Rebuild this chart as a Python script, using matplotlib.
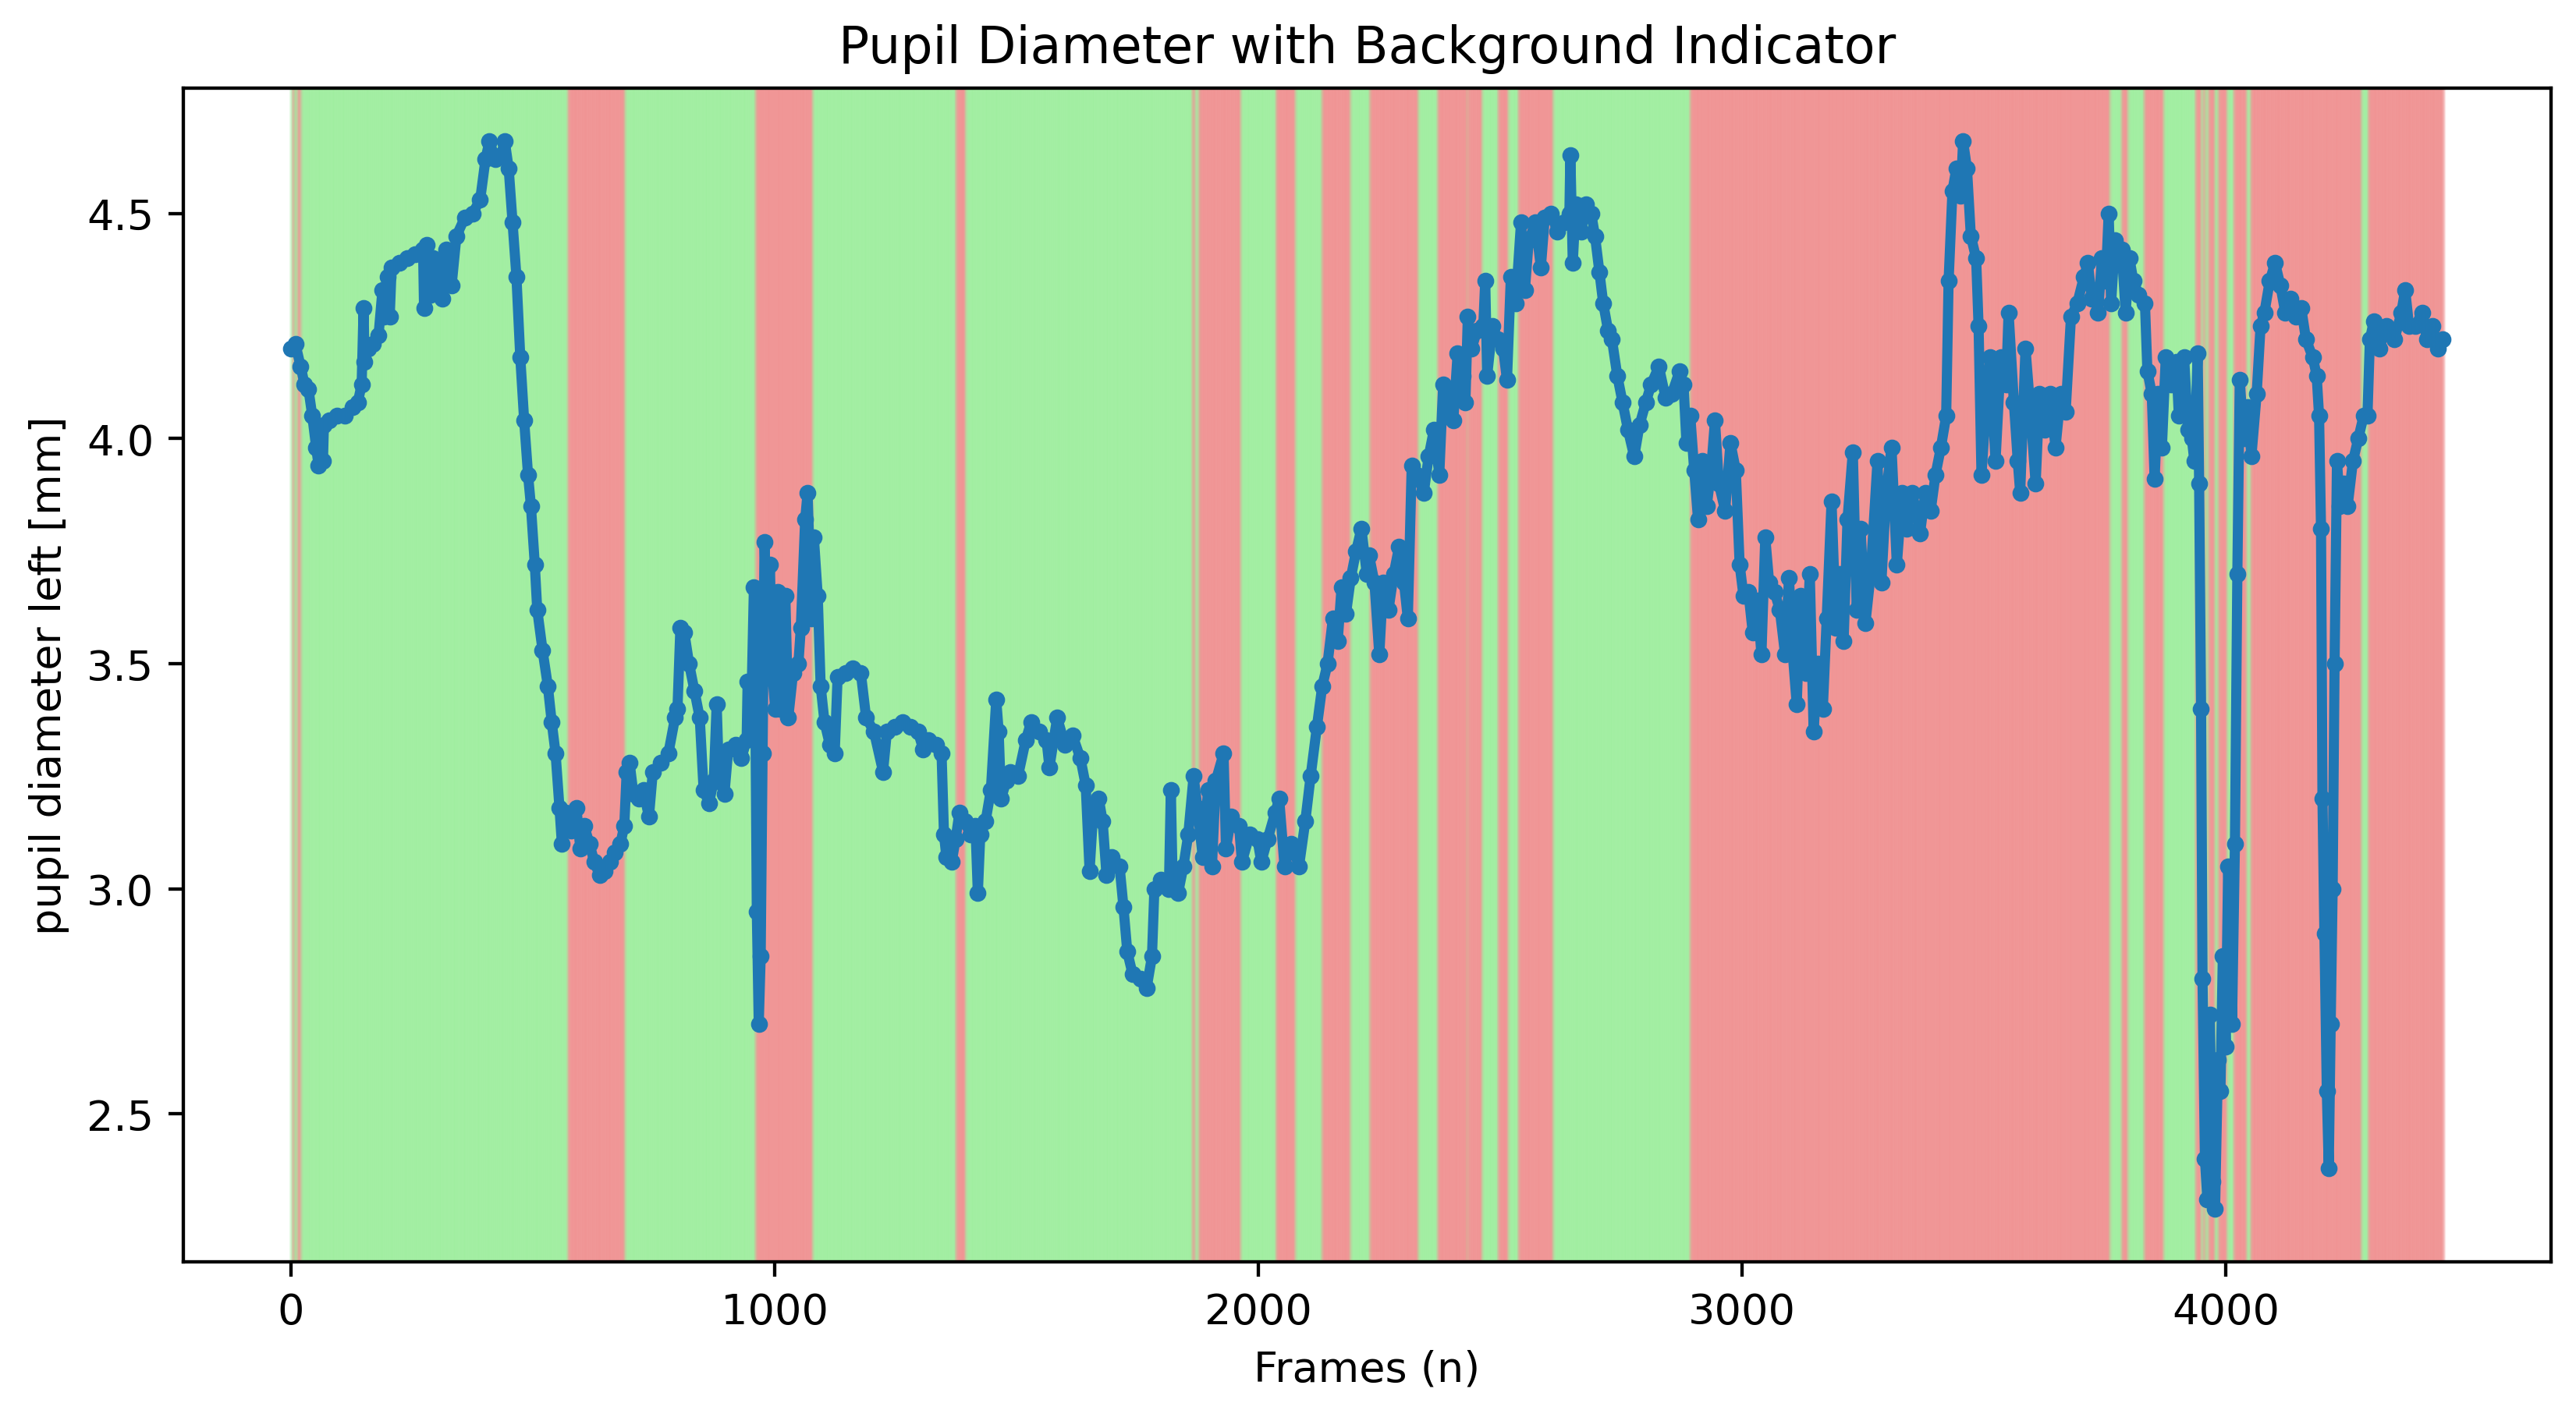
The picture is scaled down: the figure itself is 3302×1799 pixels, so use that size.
import numpy as np
import matplotlib.pyplot as plt


# Data: frames and left pupil diameter
frames = [
    0, 9, 20, 28, 36, 44, 52, 57, 66, 68, 79, 95, 111, 127, 138, 146, 150, 152, 160, 170,
    181, 189, 192, 200, 204, 208, 224, 240, 256, 273, 275, 281, 289, 294, 305, 313, 321, 332, 342, 359,
    375, 391, 402, 410, 423, 434, 442, 450, 458, 466, 474, 482, 490, 496, 504, 509, 520, 531, 539, 547,
    555, 560, 568, 579, 590, 598, 606, 617, 627, 638, 649, 660, 670, 681, 689, 694, 700, 708, 719, 729,
    732, 740, 748, 764, 780, 794, 799, 805, 813, 823, 834, 845, 853, 864, 874, 880, 885, 896, 904, 920,
    931, 942, 944, 952, 957, 960, 963, 967, 971, 975, 979, 985, 990, 995, 1001, 1006, 1011, 1017, 1022, 1028,
    1038, 1049, 1054, 1063, 1068, 1076, 1081, 1089, 1095, 1103, 1114, 1124, 1130, 1146, 1162, 1178, 1189, 1205, 1224, 1232,
    1248, 1264, 1280, 1296, 1307, 1318, 1334, 1345, 1350, 1355, 1366, 1374, 1382, 1393, 1404, 1415, 1420, 1425, 1436, 1447,
    1458, 1463, 1468, 1479, 1487, 1503, 1519, 1530, 1546, 1562, 1568, 1584, 1600, 1616, 1632, 1643, 1651, 1659, 1670, 1678,
    1686, 1697, 1713, 1721, 1729, 1740, 1756, 1769, 1780, 1785, 1799, 1815, 1819, 1823, 1834, 1845, 1855, 1866, 1874, 1885,
    1896, 1904, 1912, 1928, 1933, 1944, 1960, 1966, 1982, 1998, 2006, 2019, 2035, 2043, 2054, 2068, 2084, 2097, 2108, 2121,
    2132, 2143, 2154, 2164, 2172, 2181, 2191, 2202, 2213, 2224, 2229, 2240, 2250, 2258, 2269, 2280, 2291, 2301, 2309, 2317,
    2328, 2342, 2352, 2363, 2374, 2382, 2393, 2403, 2412, 2422, 2428, 2433, 2441, 2452, 2465, 2469, 2473, 2484, 2495, 2506,
    2514, 2522, 2532, 2543, 2551, 2559, 2573, 2584, 2592, 2605, 2618, 2632, 2643, 2645, 2650, 2656, 2667, 2678, 2688, 2696,
    2705, 2713, 2723, 2731, 2742, 2753, 2764, 2777, 2788, 2801, 2812, 2828, 2842, 2855, 2871, 2879, 2885, 2893, 2901, 2909,
    2917, 2927, 2936, 2944, 2952, 2965, 2976, 2987, 2995, 3003, 3013, 3022, 3032, 3040, 3048, 3056, 3067, 3078, 3089, 3097,
    3105, 3113, 3121, 3132, 3140, 3148, 3156, 3167, 3175, 3185, 3194, 3202, 3210, 3218, 3229, 3237, 3245, 3255, 3266, 3280,
    3288, 3298, 3309, 3320, 3331, 3341, 3352, 3368, 3379, 3390, 3400, 3411, 3422, 3427, 3435, 3443, 3452, 3457, 3465, 3473,
    3484, 3489, 3495, 3503, 3513, 3524, 3535, 3546, 3551, 3562, 3570, 3575, 3586, 3597, 3607, 3615, 3626, 3637, 3648, 3659,
    3669, 3680, 3693, 3707, 3715, 3723, 3728, 3736, 3744, 3752, 3758, 3763, 3771, 3785, 3793, 3801, 3809, 3820, 3833, 3838,
    3847, 3853, 3860, 3868, 3876, 3887, 3898, 3903, 3914, 3922, 3930, 3935, 3942, 3945, 3949, 3952, 3957, 3962, 3967, 3973,
    3978, 3984, 3989, 3994, 4000, 4005, 4013, 4019, 4024, 4029, 4037, 4045, 4053, 4064, 4072, 4080, 4091, 4102, 4113, 4123,
    4134, 4145, 4156, 4166, 4180, 4188, 4193, 4197, 4200, 4204, 4209, 4213, 4217, 4221, 4225, 4230, 4236, 4244, 4252, 4263,
    4274, 4285, 4293, 4298, 4306, 4317, 4333, 4349, 4363, 4371, 4379, 4392, 4406, 4416, 4427, 4438, 4449,
]
pupil_left = [
    4.20, 4.21, 4.16, 4.12, 4.11, 4.05, 3.98, 3.94, 3.95, 4.03, 4.04, 4.05, 4.05, 4.07, 4.08, 4.12, 4.29, 4.17, 4.20, 4.21,
    4.23, 4.33, 4.27, 4.36, 4.27, 4.38, 4.39, 4.40, 4.41, 4.42, 4.29, 4.43, 4.32, 4.40, 4.38, 4.31, 4.42, 4.34, 4.45, 4.49,
    4.50, 4.53, 4.62, 4.66, 4.62, 4.63, 4.66, 4.60, 4.48, 4.36, 4.18, 4.04, 3.92, 3.85, 3.72, 3.62, 3.53, 3.45, 3.37, 3.30,
    3.18, 3.10, 3.17, 3.13, 3.18, 3.09, 3.14, 3.10, 3.06, 3.03, 3.04, 3.06, 3.08, 3.10, 3.14, 3.26, 3.28, 3.21, 3.20, 3.22,
    3.20, 3.16, 3.26, 3.28, 3.30, 3.38, 3.40, 3.58, 3.57, 3.50, 3.44, 3.38, 3.22, 3.19, 3.24, 3.41, 3.24, 3.21, 3.31, 3.32,
    3.29, 3.33, 3.46, 3.42, 3.67, 3.40, 2.95, 2.70, 2.85, 3.30, 3.77, 3.50, 3.72, 3.48, 3.40, 3.66, 3.40, 3.50, 3.65, 3.38,
    3.48, 3.50, 3.58, 3.82, 3.88, 3.60, 3.78, 3.65, 3.45, 3.37, 3.32, 3.30, 3.47, 3.48, 3.49, 3.48, 3.38, 3.35, 3.26, 3.35,
    3.36, 3.37, 3.36, 3.35, 3.31, 3.33, 3.32, 3.30, 3.12, 3.07, 3.06, 3.11, 3.17, 3.15, 3.12, 3.14, 2.99, 3.12, 3.15, 3.22,
    3.42, 3.35, 3.20, 3.24, 3.26, 3.25, 3.33, 3.37, 3.35, 3.33, 3.27, 3.38, 3.32, 3.34, 3.29, 3.23, 3.04, 3.18, 3.20, 3.15,
    3.03, 3.07, 3.05, 2.96, 2.86, 2.81, 2.80, 2.78, 2.85, 3.00, 3.02, 3.00, 3.22, 3.00, 2.99, 3.05, 3.12, 3.25, 3.18, 3.07,
    3.22, 3.05, 3.24, 3.30, 3.09, 3.16, 3.14, 3.06, 3.12, 3.11, 3.06, 3.11, 3.17, 3.20, 3.05, 3.10, 3.05, 3.15, 3.25, 3.36,
    3.45, 3.50, 3.60, 3.55, 3.67, 3.61, 3.69, 3.75, 3.80, 3.70, 3.74, 3.68, 3.52, 3.68, 3.62, 3.70, 3.76, 3.68, 3.60, 3.94,
    3.92, 3.88, 3.96, 4.02, 3.92, 4.12, 4.08, 4.04, 4.19, 4.14, 4.08, 4.27, 4.20, 4.24, 4.25, 4.35, 4.14, 4.25, 4.22, 4.20,
    4.13, 4.36, 4.30, 4.48, 4.33, 4.44, 4.48, 4.38, 4.49, 4.50, 4.46, 4.48, 4.50, 4.63, 4.39, 4.52, 4.46, 4.52, 4.50, 4.45,
    4.37, 4.30, 4.24, 4.22, 4.14, 4.08, 4.02, 3.96, 4.03, 4.08, 4.12, 4.16, 4.09, 4.10, 4.15, 4.12, 3.99, 4.05, 3.93, 3.82,
    3.95, 3.85, 3.93, 4.04, 3.90, 3.84, 3.99, 3.93, 3.72, 3.65, 3.66, 3.57, 3.64, 3.52, 3.78, 3.68, 3.66, 3.62, 3.52, 3.69,
    3.52, 3.41, 3.65, 3.48, 3.70, 3.35, 3.50, 3.40, 3.60, 3.86, 3.58, 3.70, 3.55, 3.82, 3.97, 3.62, 3.80, 3.59, 3.70, 3.95,
    3.68, 3.88, 3.98, 3.72, 3.88, 3.80, 3.88, 3.79, 3.88, 3.84, 3.92, 3.98, 4.05, 4.35, 4.55, 4.60, 4.54, 4.66, 4.60, 4.45,
    4.40, 4.25, 3.92, 4.05, 4.18, 3.95, 4.18, 4.12, 4.28, 4.08, 3.95, 3.88, 4.20, 4.05, 3.90, 4.10, 4.02, 4.10, 3.98, 4.10,
    4.06, 4.27, 4.30, 4.36, 4.39, 4.31, 4.32, 4.28, 4.40, 4.35, 4.50, 4.30, 4.44, 4.42, 4.28, 4.40, 4.35, 4.32, 4.30, 4.15,
    4.10, 3.91, 4.10, 3.98, 4.18, 4.12, 4.17, 4.05, 4.18, 4.02, 4.00, 3.95, 4.19, 3.90, 3.40, 2.80, 2.40, 2.31, 2.72, 2.35,
    2.29, 2.62, 2.55, 2.85, 2.65, 3.05, 2.70, 3.10, 3.70, 4.13, 4.00, 4.07, 3.96, 4.10, 4.25, 4.28, 4.35, 4.39, 4.34, 4.28,
    4.31, 4.27, 4.29, 4.22, 4.18, 4.14, 4.05, 3.80, 3.20, 2.90, 2.55, 2.38, 2.70, 3.00, 3.50, 3.95, 3.85, 3.90, 3.85, 3.95,
    4.00, 4.05, 4.05, 4.22, 4.26, 4.20, 4.25, 4.22, 4.28, 4.33, 4.25, 4.25, 4.28, 4.22, 4.25, 4.20, 4.22,
]

# Background indicator: frame ranges with the red background (the rest is green)
n_frames = 4450
red_start = [4, 14, 573, 961, 1375, 1864, 1877, 2037, 2132, 2231, 2371, 2434, 2496, 2538, 2893,
             3785, 3832, 3938, 3955, 3965, 3985, 4017, 4052, 4295]
red_end = [8, 21, 691, 1079, 1395, 1870, 1964, 2077, 2191, 2331, 2433, 2463, 2517, 2610, 3761,
           3798, 3872, 3950, 3959, 3978, 4003, 4044, 4281, 4450]

is_red = np.zeros(n_frames, dtype=bool)
for s, e in zip(red_start, red_end):
    is_red[s:e] = True

fig = plt.figure(figsize=(3302 / 390, 1800 / 390), dpi=390)
ax = fig.add_subplot(111)
fig.subplots_adjust(left=0.0712, right=0.9903, bottom=0.1006, top=0.9367)

# background, one span per frame
for i in range(n_frames):
    ax.axvspan(i, i + 1, color='lightcoral' if is_red[i] else 'lightgreen', alpha=0.14)

ax.plot(frames, pupil_left, marker='o', markersize=3, linewidth=2.4, color='#1f77b4')

ax.set_title("Pupil Diameter with Background Indicator")
ax.set_xlabel("Frames (n)")
ax.set_ylabel("pupil diameter left [mm]")
ax.set_yticks([2.5, 3.0, 3.5, 4.0, 4.5])

fig.savefig("out.png", dpi=390)
